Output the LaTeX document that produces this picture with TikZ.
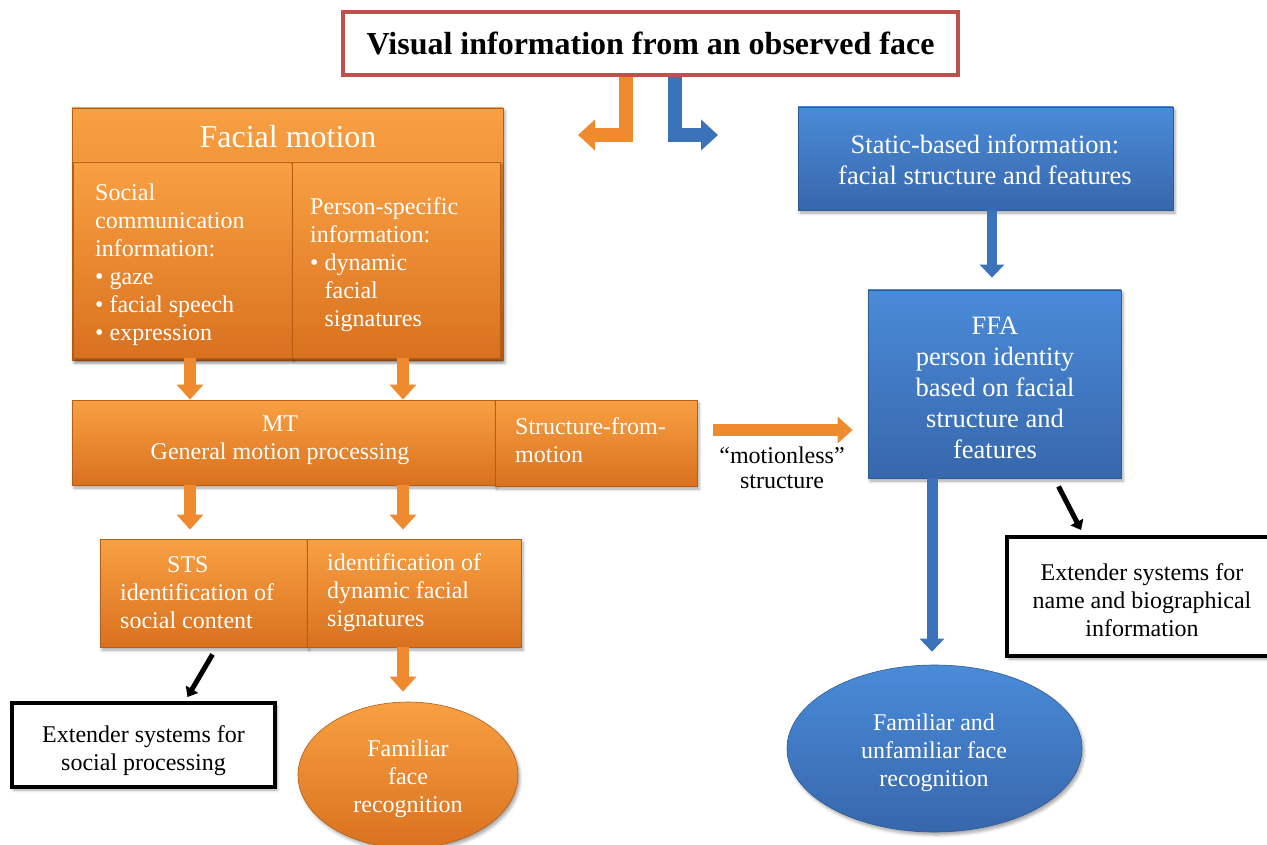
\documentclass[tikz,border=0pt]{standalone}
\usepackage{fontspec}
\setmainfont{Liberation Serif}
\usetikzlibrary{arrows.meta,shapes.geometric,shadows.blur}

\definecolor{orTop}{HTML}{F9A043}
\definecolor{orBot}{HTML}{D9711E}
\definecolor{orEdge}{HTML}{B65E18}
\definecolor{orArrow}{HTML}{F08A2E}
\definecolor{blTop}{HTML}{4A8BD8}
\definecolor{blBot}{HTML}{3767AC}
\definecolor{blEdge}{HTML}{2E5A96}
\definecolor{blArrow}{HTML}{3B72BA}
\definecolor{titleRed}{HTML}{C0504D}

\tikzset{
  softshadow/.style={blur shadow={shadow xshift=2pt, shadow yshift=-3pt,
      shadow blur radius=3pt, shadow opacity=35}},
  obox/.style={rectangle, inner sep=0pt, top color=orTop, bottom color=orBot,
      draw=orEdge, line width=0.8pt, softshadow},
  bbox/.style={rectangle, inner sep=0pt, top color=blTop, bottom color=blBot,
      draw=blEdge, line width=0.8pt, softshadow},
  oell/.style={ellipse, inner sep=0pt, top color=orTop, bottom color=orBot,
      draw=orEdge, line width=0.6pt, softshadow},
  bell/.style={ellipse, inner sep=0pt, top color=blTop, bottom color=blBot,
      draw=blEdge, line width=0.6pt, softshadow},
  whitebox/.style={rectangle, inner sep=0pt, fill=white, draw=black,
      line width=4pt, softshadow},
  titlebox/.style={rectangle, inner sep=0pt, fill=white, draw=titleRed,
      line width=3.5pt},
  wtxt/.style={text=white, inner sep=0pt, font=\fontsize{24}{28}\selectfont},
  wtxtlarge/.style={text=white, inner sep=0pt, font=\fontsize{26.5}{31}\selectfont},
  ktxt/.style={text=black, inner sep=0pt, font=\fontsize{24}{28}\selectfont},
  oarr/.style={draw=orArrow, line width=12pt, -{Triangle[length=15pt,width=26pt]}},
  barr/.style={draw=blArrow, line width=11pt, -{Triangle[length=13pt,width=24pt]}},
  karr/.style={draw=black, line width=5pt, -{Triangle[length=9pt,width=14pt]}},
  lbend/.style={line width=14pt, line join=miter, -{Triangle[length=17pt,width=30pt]}},
}

\begin{document}
\begin{tikzpicture}[x=1pt,y=-1pt]
\useasboundingbox (0,0) rectangle (1267,845);

% ---- heading
\node[titlebox, minimum width=615pt, minimum height=63pt,
      font=\fontsize{32}{38}\selectfont\bfseries] (title) at (650.5,43.5)
      {Visual information from an observed face};

% ---- facial motion (left column)
\node[obox, minimum width=431pt, minimum height=252pt] (fm) at (287.5,234) {};
\node[wtxt, font=\fontsize{32}{38}\selectfont] (fmtitle) at (288,137) {Facial motion};
\node[obox, minimum width=219pt, minimum height=196pt] (soc) at (182.5,260) {};
\node[obox, minimum width=208pt, minimum height=196pt] (pers) at (396,260) {};
\node[wtxt, align=left, anchor=west] (soctext) at (95,265)
  {Social\\communication\\information:\\• gaze\\• facial speech\\• expression};
\node[wtxt, align=left, anchor=west] (perstext) at (310,265)
  {Person-specific\\information:\\• dynamic\\\phantom{• }facial\\\phantom{• }signatures};

\node[obox, minimum width=423pt, minimum height=85pt] (mt) at (283.5,442.5) {};
\node[obox, minimum width=202pt, minimum height=86pt] (sfm) at (596,443) {};
\node[wtxt, align=center] (mttext) at (280,440) {MT\\General motion processing};
\node[wtxt, align=left, anchor=west] (sfmtext) at (515,440) {Structure-from-\\motion};

\node[obox, minimum width=207pt, minimum height=108pt] (sts) at (203.5,593) {};
\node[obox, minimum width=214pt, minimum height=108pt] (ident) at (414,593) {};
\node[wtxt, align=left, anchor=west] (ststext) at (120,592.5)
  {\hspace*{47pt}STS\\identification of\\social content};
\node[wtxt, align=left, anchor=west] (identtext) at (327,592.5)
  {identification of\\dynamic facial\\signatures};

\node[whitebox, minimum width=263pt, minimum height=84pt] (exs) at (143.5,745) {};
\node[ktxt, align=center] (exstext) at (143.5,750.5)
  {Extender systems for\\social processing};

\node[oell, minimum width=220pt, minimum height=146pt] (ofr) at (408,775) {};
\node[wtxt, align=center] (ofrtext) at (408,779) {Familiar\\face\\recognition};

% ---- static information (right column)
\node[bbox, minimum width=375pt, minimum height=103pt] (static) at (985.5,158.5) {};
\node[wtxtlarge, align=center] (statictext) at (985,160)
  {Static-based information:\\facial structure and features};

\node[bbox, minimum width=253pt, minimum height=188pt] (ffa) at (994.5,384) {};
\node[wtxtlarge, align=center] (ffatext) at (995,387.5)
  {FFA\\person identity\\based on facial\\structure and\\features};

\node[bell, minimum width=295pt, minimum height=167pt] (bfr) at (934.5,748.5) {};
\node[wtxt, align=center] (bfrtext) at (934,753)
  {Familiar and\\unfamiliar face\\recognition};

\node[whitebox, minimum width=270pt, minimum height=119pt] (exn) at (1142,596.5) {};
\node[ktxt, align=center] (exntext) at (1142,600.5)
  {Extender systems for\\name and biographical\\information};

\node[ktxt, align=center, font=\fontsize{24}{25.5}\selectfont] (motionless) at (782,468)
  {“motionless”\\structure};

% ---- split arrows under the heading
\coordinate (oTurn) at (626,135);
\coordinate (oEnd) at (578,135);
\coordinate (bTurn) at (675,135);
\coordinate (bEnd) at (718,135);
\draw[lbend, draw=orArrow] (title.south -| oTurn) |- (oEnd);
\draw[lbend, draw=blArrow] (title.south -| bTurn) |- (bEnd);

% ---- flow arrows
\coordinate (cA) at (190,0);
\coordinate (cB) at (403,0);
\coordinate (cC) at (992,0);
\coordinate (cD) at (932,0);
\coordinate (rowH) at (0,430);

\draw[oarr] (soc.south -| cA) -- (mt.north -| cA);
\draw[oarr] (pers.south -| cB) -- (mt.north -| cB);
\draw[oarr, shorten >=9pt] (mt.south -| cA) -- (sts.north -| cA);
\draw[oarr, shorten >=9pt] (mt.south -| cB) -- (ident.north -| cB);
\draw[oarr, shorten >=10pt] (ident.south -| cB) -- (ofr.north -| cB);
\draw[oarr, shorten <=16pt, shorten >=15pt] (sfm.east |- rowH) -- (ffa.west |- rowH);

\draw[barr, line width=10pt, shorten >=12pt] (static.south -| cC) -- (ffa.north -| cC);
\draw[barr, shorten >=13pt] (ffa.south -| cD) -- (bfr.north -| cD);

\draw[karr] ([xshift=9pt,yshift=-7pt]sts.south) -- ([xshift=44pt,yshift=4pt]exs.north);
\draw[karr] ([xshift=64pt,yshift=-8pt]ffa.south) -- ([xshift=-61pt,yshift=5pt]exn.north);

\end{tikzpicture}
\end{document}
